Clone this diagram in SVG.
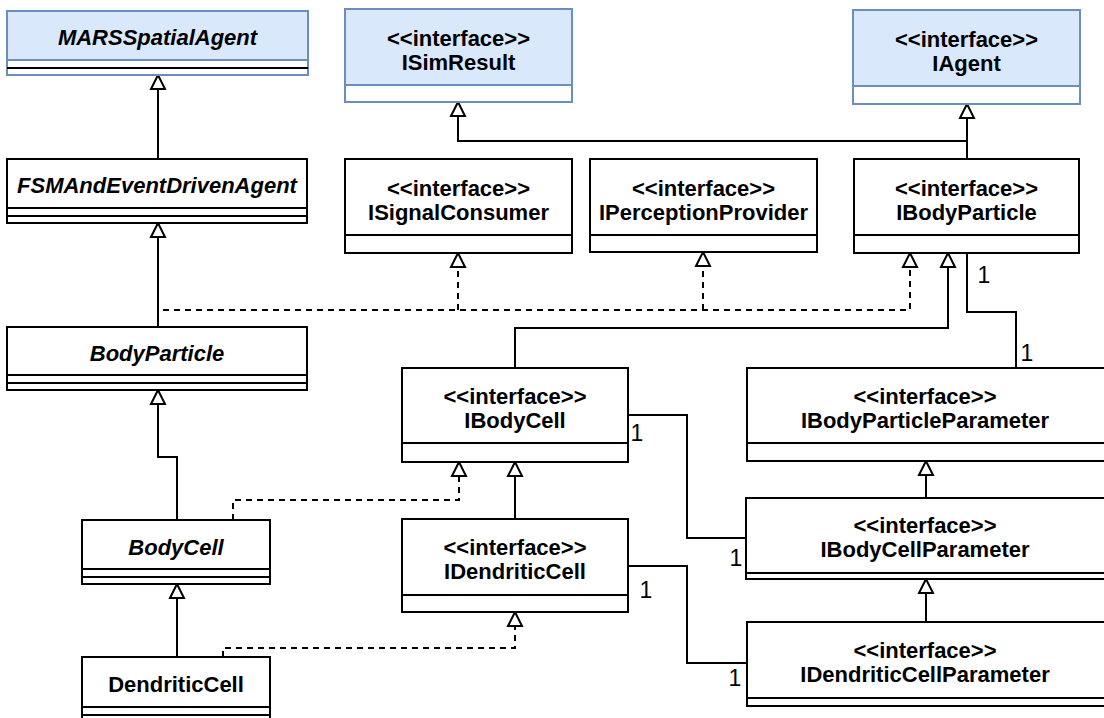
<svg xmlns="http://www.w3.org/2000/svg" width="1104" height="718" viewBox="0 0 1104 718">
  <style>
    .box { fill: #ffffff; stroke: #000000; stroke-width: 2; }
    .blue { fill: #dae8fc; stroke: #6c8ebf; stroke-width: 2; }
    .sep { stroke: #000000; stroke-width: 2; fill: none; }
    .sepb { stroke: #6c8ebf; stroke-width: 2; fill: none; }
    .name { font-family: "Liberation Sans", Arial, Helvetica, sans-serif; font-size: 22px; font-weight: bold; text-anchor: middle; fill: #000000; }
    .abs { font-style: italic; }
    .mult { font-family: "Liberation Sans", Arial, Helvetica, sans-serif; font-size: 23px; text-anchor: middle; fill: #000000; }
    .edge { fill: none; stroke: #000000; stroke-width: 2; }
    .dash { stroke-dasharray: 6 5; }
  </style>
  <defs>
    <marker id="tri" markerUnits="userSpaceOnUse" markerWidth="20" markerHeight="20" refX="15" refY="8" orient="auto" overflow="visible">
      <path d="M1,1 L15,8 L1,15 Z" fill="#ffffff" stroke="#000000" stroke-width="2" stroke-dasharray="none"/>
    </marker>
  </defs>

  <!-- connectors -->
  <g id="edges">
    <!-- generalisations -->
    <path class="edge" d="M158,159 V75" marker-end="url(#tri)"/>
    <path class="edge" d="M158,327 V223" marker-end="url(#tri)"/>
    <path class="edge" d="M177,520 V457 H158 V390" marker-end="url(#tri)"/>
    <path class="edge" d="M177,657 V584" marker-end="url(#tri)"/>
    <path class="edge" d="M967,159 V104" marker-end="url(#tri)"/>
    <path class="edge" d="M967,141 H458 V102" marker-end="url(#tri)"/>
    <path class="edge" d="M515,368 V328 H948 V253" marker-end="url(#tri)"/>
    <path class="edge" d="M515,519 V462" marker-end="url(#tri)"/>
    <path class="edge" d="M926,498 V461" marker-end="url(#tri)"/>
    <path class="edge" d="M926,622 V579" marker-end="url(#tri)"/>
    <!-- realisations -->
    <path class="edge dash" d="M163,310 H910 V253" marker-end="url(#tri)"/>
    <path class="edge dash" d="M458,310 V253" marker-end="url(#tri)"/>
    <path class="edge dash" d="M703,310 V252" marker-end="url(#tri)"/>
    <path class="edge dash" d="M233,520 V500 H459 V462" marker-end="url(#tri)"/>
    <path class="edge dash" d="M223,657 V648 H515 V612" marker-end="url(#tri)"/>
    <!-- associations -->
    <path class="edge" d="M967,253 V312 H1016 V368"/>
    <path class="edge" d="M628,415 H687 V538 H746"/>
    <path class="edge" d="M628,566 H687 V663 H747"/>
    <text class="mult" x="984" y="283">1</text>
    <text class="mult" x="1027" y="361">1</text>
    <text class="mult" x="637" y="441">1</text>
    <text class="mult" x="736" y="566">1</text>
    <text class="mult" x="646" y="598">1</text>
    <text class="mult" x="735" y="686">1</text>
  </g>

  <g id="MARSSpatialAgent">
    <rect class="blue" x="7" y="11" width="301" height="64"/>
    <rect x="8" y="61" width="299" height="13" fill="#ffffff"/>
    <line class="sepb" x1="7" y1="60" x2="308" y2="60"/>
    <line class="sep" x1="7" y1="68" x2="308" y2="68"/>
    <text class="name abs" x="157.5" y="45">MARSSpatialAgent</text>
  </g>

  <g id="ISimResult">
    <rect class="blue" x="345" y="9" width="227" height="93"/>
    <rect x="346" y="86" width="225" height="15" fill="#ffffff"/>
    <line class="sepb" x1="345" y1="85" x2="572" y2="85"/>
    <text class="name" x="458.5" y="46">&lt;&lt;interface&gt;&gt;</text>
    <text class="name" x="458.5" y="70">ISimResult</text>
  </g>

  <g id="IAgent">
    <rect class="blue" x="853" y="10" width="227" height="94"/>
    <rect x="854" y="87" width="225" height="16" fill="#ffffff"/>
    <line class="sepb" x1="853" y1="86" x2="1080" y2="86"/>
    <text class="name" x="966.5" y="47">&lt;&lt;interface&gt;&gt;</text>
    <text class="name" x="966.5" y="71">IAgent</text>
  </g>

  <g id="FSMAndEventDrivenAgent">
    <rect class="box" x="7" y="159" width="300" height="64"/>
    <line class="sep" x1="7" y1="208" x2="307" y2="208"/>
    <line class="sep" x1="7" y1="216" x2="307" y2="216"/>
    <text class="name abs" x="157" y="193">FSMAndEventDrivenAgent</text>
  </g>

  <g id="ISignalConsumer">
    <rect class="box" x="345" y="159" width="227" height="94"/>
    <line class="sep" x1="345" y1="235" x2="572" y2="235"/>
    <text class="name" x="458.5" y="196">&lt;&lt;interface&gt;&gt;</text>
    <text class="name" x="458.5" y="220">ISignalConsumer</text>
  </g>

  <g id="IPerceptionProvider">
    <rect class="box" x="590" y="159" width="227" height="93"/>
    <line class="sep" x1="590" y1="235" x2="817" y2="235"/>
    <text class="name" x="703.5" y="196">&lt;&lt;interface&gt;&gt;</text>
    <text class="name" x="703.5" y="220">IPerceptionProvider</text>
  </g>

  <g id="IBodyParticle">
    <rect class="box" x="854" y="159" width="225" height="94"/>
    <line class="sep" x1="854" y1="235" x2="1079" y2="235"/>
    <text class="name" x="966.5" y="196">&lt;&lt;interface&gt;&gt;</text>
    <text class="name" x="966.5" y="220">IBodyParticle</text>
  </g>

  <g id="BodyParticle">
    <rect class="box" x="7" y="327" width="300" height="63"/>
    <line class="sep" x1="7" y1="375" x2="307" y2="375"/>
    <line class="sep" x1="7" y1="383" x2="307" y2="383"/>
    <text class="name abs" x="157" y="361">BodyParticle</text>
  </g>

  <g id="IBodyCell">
    <rect class="box" x="402" y="368" width="226" height="94"/>
    <line class="sep" x1="402" y1="443" x2="628" y2="443"/>
    <text class="name" x="515" y="404">&lt;&lt;interface&gt;&gt;</text>
    <text class="name" x="515" y="428">IBodyCell</text>
  </g>

  <g id="IBodyParticleParameter">
    <rect class="box" x="747" y="368" width="358" height="93"/>
    <line class="sep" x1="747" y1="443" x2="1105" y2="443"/>
    <text class="name" x="925" y="404">&lt;&lt;interface&gt;&gt;</text>
    <text class="name" x="925" y="428">IBodyParticleParameter</text>
  </g>

  <g id="BodyCell">
    <rect class="box" x="82" y="520" width="188" height="64"/>
    <line class="sep" x1="82" y1="569" x2="270" y2="569"/>
    <line class="sep" x1="82" y1="577" x2="270" y2="577"/>
    <text class="name abs" x="176" y="555">BodyCell</text>
  </g>

  <g id="IDendriticCell">
    <rect class="box" x="402" y="519" width="226" height="93"/>
    <line class="sep" x1="402" y1="595" x2="628" y2="595"/>
    <text class="name" x="515" y="555">&lt;&lt;interface&gt;&gt;</text>
    <text class="name" x="515" y="579">IDendriticCell</text>
  </g>

  <g id="IBodyCellParameter">
    <rect class="box" x="746" y="498" width="359" height="81"/>
    <line class="sep" x1="746" y1="573" x2="1105" y2="573"/>
    <text class="name" x="925" y="533">&lt;&lt;interface&gt;&gt;</text>
    <text class="name" x="925" y="557">IBodyCellParameter</text>
  </g>

  <g id="DendriticCell">
    <rect class="box" x="82" y="657" width="188" height="70"/>
    <line class="sep" x1="82" y1="707" x2="270" y2="707"/>
    <line class="sep" x1="82" y1="715" x2="270" y2="715"/>
    <text class="name" x="176" y="692">DendriticCell</text>
  </g>

  <g id="IDendriticCellParameter">
    <rect class="box" x="747" y="622" width="358" height="84"/>
    <line class="sep" x1="747" y1="698" x2="1105" y2="698"/>
    <text class="name" x="925" y="658">&lt;&lt;interface&gt;&gt;</text>
    <text class="name" x="925" y="682">IDendriticCellParameter</text>
  </g>
</svg>
